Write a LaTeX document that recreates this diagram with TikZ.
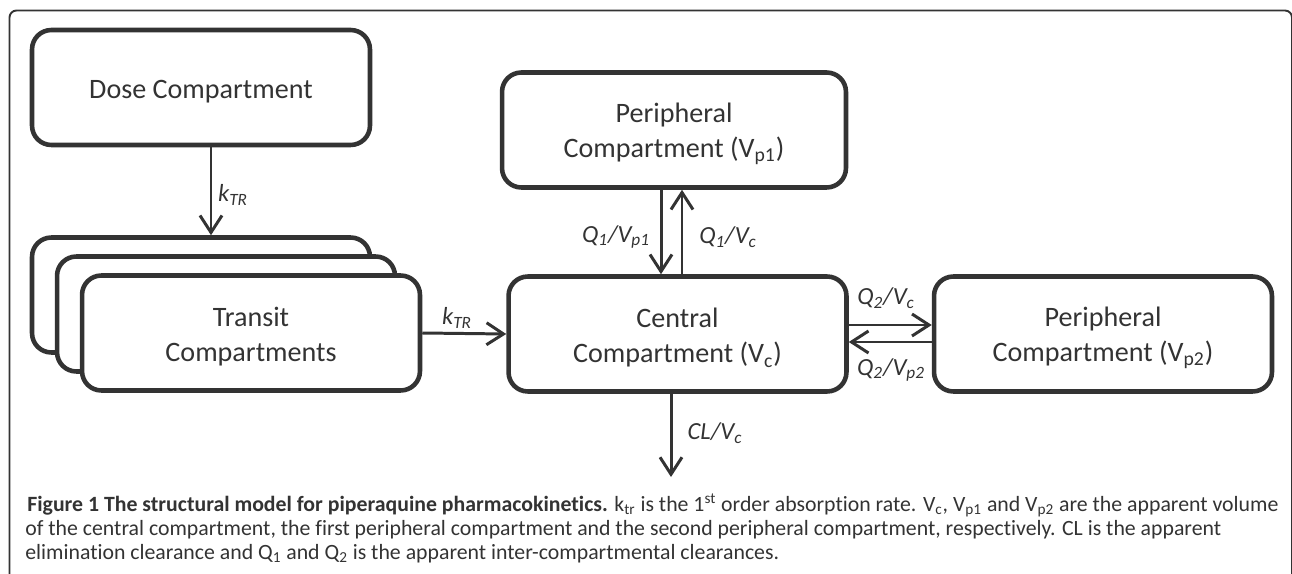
\documentclass[tikz,border=0pt]{standalone}
\usepackage{fontspec}
\setmainfont{Carlito}[Ligatures=NoCommon]
\usetikzlibrary{arrows.meta}
\definecolor{ink}{HTML}{333333}
\tikzstyle{comp} = [draw=ink, line width=2.6pt, rounded corners=11pt, fill=white, text=ink,
  minimum width=6.76cm, minimum height=2.3cm, inner sep=0pt, align=center,
  font=\fontsize{16}{20}\selectfont]
\tikzstyle{oneline} = [text height=15.5pt]
\tikzstyle{twoline} = [text height=35.5pt]
\tikzstyle{flow} = [draw=ink, line width=1.7pt, -{Straight Barb[length=0.34cm, width=0.44cm]}]
\tikzstyle{rate} = [text=ink, inner sep=0pt, font=\fontsize{14}{16}\selectfont\itshape]
\tikzstyle{capline} = [anchor=base west, text=ink, inner sep=0pt, font=\fontsize{12.4}{14}\selectfont]

\begin{document}
\begin{tikzpicture}[x=0.02cm, y=-0.02cm]
\useasboundingbox (0,0) rectangle (1292,574);
\clip (0,0) rectangle (1292,574);
% frame
\draw[draw=ink, line width=1.1pt, rounded corners=4pt] (9.5,10.5) rectangle (1292,600);

% compartments
\node[comp, oneline] (dose) at (201,87.5) {Dose Compartment};
\node[comp] (back) at (201,295) {};
\node[comp] (middle) at (226,314) {};
\node[comp, twoline] (front) at (251,333) {Transit\\Compartments};
\node[comp, twoline, minimum width=6.88cm] (p1) at (674,130) {Peripheral\\Compartment (V\textsubscript{p1})};
\node[comp, twoline] (central) at (677.5,334) {Central\\Compartment (V\textsubscript{c})};
\node[comp, twoline] (p2) at (1103,334) {Peripheral\\Compartment (V\textsubscript{p2})};

% flows
\draw[flow] ([xshift=0.2cm]dose.south) -- ([xshift=0.2cm]back.north);
\draw[flow] (front.east) -- (central.west);
\coordinate (d1) at ([xshift=-0.33cm]central.north);
\coordinate (u1) at ([xshift=0.09cm]central.north);
\draw[flow] (d1 |- p1.south) -- (d1);
\draw[flow] (u1) -- (u1 |- p1.south);
\draw[flow] ([yshift=0.18cm]central.east) -- ([yshift=0.18cm]p2.west);
\draw[flow] ([yshift=-0.16cm]p2.west) -- ([yshift=-0.16cm]central.east);
\coordinate (elim) at (671,477);
\draw[flow] (elim |- central.south) -- (elim);

% rate labels
\node[rate] (ktr1) at (233,195) {k\textsubscript{TR}};
\node[rate] (ktr2) at (457,318) {k\textsubscript{TR}};
\node[rate] (q1p) at (616,237) {Q\textsubscript{1}/V\textsubscript{p1}};
\node[rate] (q1c) at (728,237) {Q\textsubscript{1}/V\textsubscript{c}};
\node[rate] (q2c) at (886,298) {Q\textsubscript{2}/V\textsubscript{c}};
\node[rate] (q2p) at (891,370) {Q\textsubscript{2}/V\textsubscript{p2}};
\node[rate] (clv) at (715,433) {CL/V\textsubscript{c}};

% caption
\node[capline] (cap1) at (27,511) {\textbf{Figure 1 The structural model for piperaquine pharmacokinetics.} k\textsubscript{tr} is the 1\textsuperscript{st} order absorption rate. V\textsubscript{c}, V\textsubscript{p1} and V\textsubscript{p2} are the apparent volume};
\node[capline] (cap2) at (25,535) {of the central compartment, the first peripheral compartment and the second peripheral compartment, respectively. CL is the apparent};
\node[capline] (cap3) at (25,559) {elimination clearance and Q\textsubscript{1} and Q\textsubscript{2} is the apparent inter-compartmental clearances.};
\end{tikzpicture}
\end{document}
